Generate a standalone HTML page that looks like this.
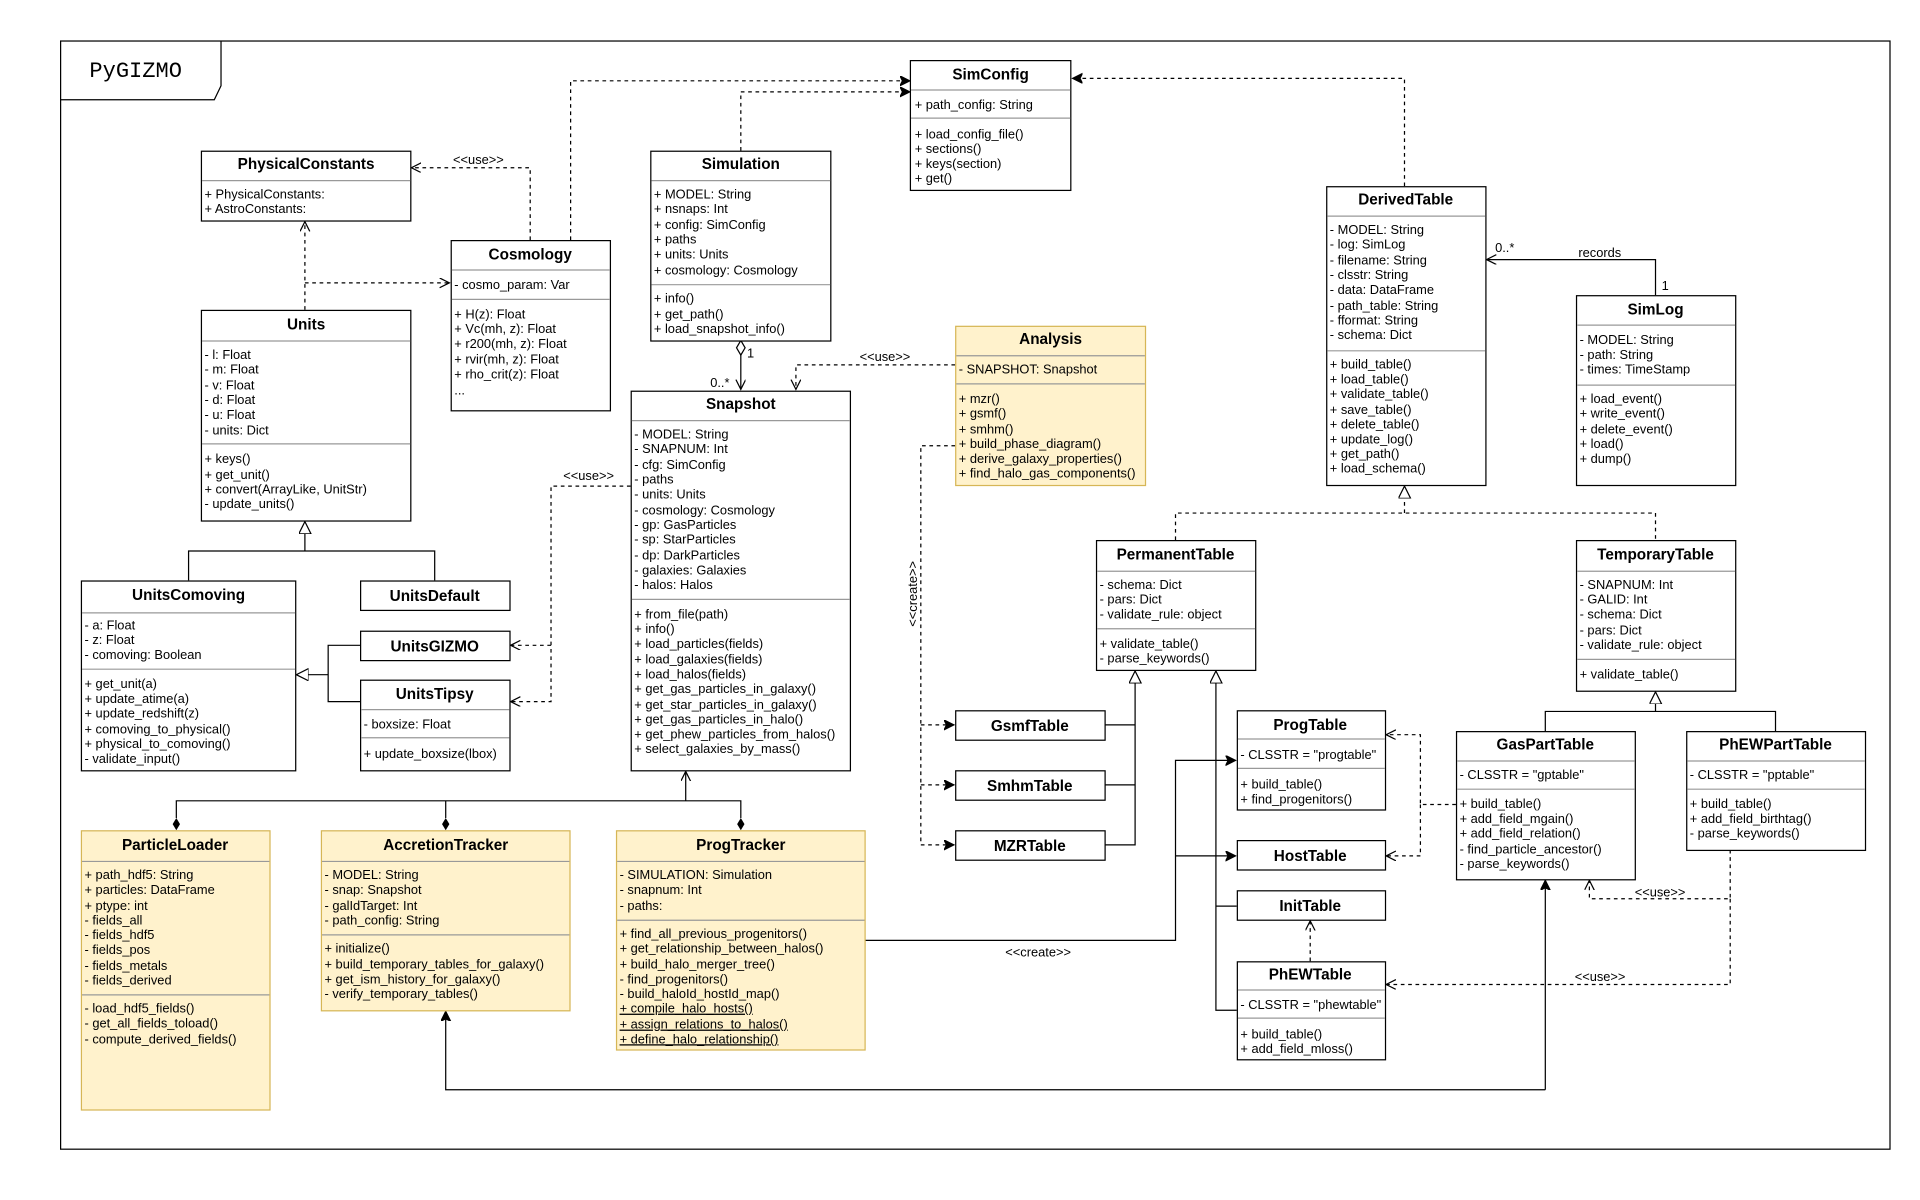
<!DOCTYPE html>
<html><head><meta charset="utf-8"><style>
html,body{margin:0;padding:0;background:#fff;width:1920px;height:1200px;overflow:hidden}
svg{display:block}
.t{font:bold 12.5px "Liberation Sans",sans-serif;text-anchor:middle}
.m{font:10.5px "Liberation Sans",sans-serif}
.l{font:10.5px "Liberation Sans",sans-serif}
.b{fill:#fff;stroke:#000;stroke-width:1}
.y{fill:#fff2cc;stroke:#d6b656;stroke-width:1}
.s{stroke:#999;stroke-width:1}
.c{fill:none;stroke:#000;stroke-width:1}
.d{fill:none;stroke:#000;stroke-width:1;stroke-dasharray:3,3}
</style></head><body>
<svg width="1920" height="1200" viewBox="0 0 1568 980" xmlns="http://www.w3.org/2000/svg">
<defs>
<marker id="op" markerUnits="userSpaceOnUse" markerWidth="10" markerHeight="10" refX="8" refY="4" orient="auto"><path d="M0,0 L8,4 L0,8" fill="none" stroke="#000" stroke-width="1"/></marker>
<marker id="fa" markerUnits="userSpaceOnUse" markerWidth="10" markerHeight="10" refX="8" refY="4" orient="auto"><path d="M0,0 L8,4 L0,8 L2,4 z" fill="#000" stroke="#000"/></marker>
<marker id="tr" markerUnits="userSpaceOnUse" markerWidth="12" markerHeight="12" refX="10" refY="5" orient="auto"><path d="M0,0 L10,5 L0,10 z" fill="#fff" stroke="#000"/></marker>
</defs>
<rect x="0" y="0" width="1568" height="980" fill="#fff"/>
<!-- frame -->
<rect x="49.5" y="33.5" width="1494" height="905" fill="none" stroke="#000"/>
<path d="M49.5,81.5 H175 L180.5,70 V33.5" fill="none" stroke="#000"/>
<text x="73" y="63" style="font:18px 'Liberation Mono',monospace">PyGIZMO</text>

<!-- connectors -->
<path class="d" d="M466,196 V66 H743" marker-end="url(#fa)"/>
<path class="d" d="M605,123 V75 H743" marker-end="url(#fa)"/>
<path class="d" d="M1147,152 V64 H876" marker-end="url(#fa)"/>
<path class="d" d="M433,196 V137 H336" marker-end="url(#op)"/>
<text class="l" x="370" y="134">&lt;&lt;use&gt;&gt;</text>
<path class="d" d="M249,253 V181" marker-end="url(#op)"/>
<path class="d" d="M249,231 H367" marker-end="url(#op)"/>
<path class="c" d="M154,474 V450 H355 V474 M249,450 V426" marker-end="url(#tr)"/>
<path class="c" d="M294,527 H268 V573 H294 M268,551 H242" marker-end="url(#tr)"/>
<path class="d" d="M515,397 H450 V573 H417" marker-end="url(#op)"/>
<path class="d" d="M450,527 H417" marker-end="url(#op)"/>
<text class="l" x="460" y="392">&lt;&lt;use&gt;&gt;</text>
<path class="c" d="M605,289 V318" marker-end="url(#op)"/>
<path d="M605,278 L608.5,284 L605,290 L601.5,284 z" fill="#fff" stroke="#000"/>
<text class="l" x="610" y="292">1</text>
<text class="l" x="580" y="316">0..*</text>
<path class="d" d="M780,298 H650 V318" marker-end="url(#op)"/>
<text class="l" x="702" y="295">&lt;&lt;use&gt;&gt;</text>
<path class="d" d="M780,364 H752 V690 H779" marker-end="url(#fa)"/>
<path class="d" d="M752,592 H779" marker-end="url(#fa)"/>
<path class="d" d="M752,641 H779" marker-end="url(#fa)"/>
<text class="l" transform="translate(749,485) rotate(-90)" text-anchor="middle">&lt;&lt;create&gt;&gt;</text>
<path class="c" d="M1352,241 V212 H1214" marker-end="url(#op)"/>
<text class="l" x="1221" y="206">0..*</text>
<text class="l" x="1289" y="210">records</text>
<text class="l" x="1357" y="237">1</text>
<path class="d" d="M960,441 V419 H1352 V441 M1147,419 V397" marker-end="url(#tr)"/>
<path class="c" d="M902,592 H927 V690 H902 M902,641 H927 M927,592 V548" marker-end="url(#tr)"/>
<path class="c" d="M1010,825 H993 V548" marker-end="url(#tr)"/>
<path class="c" d="M993,740 H1010"/>
<path class="c" d="M706,768 H960 V621 H1009" marker-end="url(#fa)"/>
<path class="c" d="M960,699 H1009" marker-end="url(#fa)"/>
<text class="l" x="821" y="781">&lt;&lt;create&gt;&gt;</text>
<path class="d" d="M1189,657 H1160 V600 H1132" marker-end="url(#op)"/>
<path class="d" d="M1160,657 V699 H1132" marker-end="url(#op)"/>
<path class="d" d="M1413,694 V734 H1298 V719" marker-end="url(#op)"/>
<path class="d" d="M1413,734 V804 H1132" marker-end="url(#op)"/>
<text class="l" x="1335" y="732">&lt;&lt;use&gt;&gt;</text>
<text class="l" x="1286" y="801">&lt;&lt;use&gt;&gt;</text>
<path class="d" d="M1070,785 V752" marker-end="url(#op)"/>
<path class="c" d="M1262,890 H364 V826" marker-end="url(#fa)"/>
<path class="c" d="M1262,890 V719" marker-end="url(#fa)"/>
<path class="c" d="M144,668 V654 H605 V668 M364,654 V668 M560,654 V630" marker-end="url(#op)"/>
<path d="M144,668 L147,673 L144,678 L141,673 z M364,668 L367,673 L364,678 L361,673 z M605,668 L608,673 L605,678 L602,673 z" fill="#000"/>

<!-- SimConfig -->
<rect class="b" x="743.5" y="49.5" width="131" height="106"/>
<text class="t" x="809" y="65">SimConfig</text>
<line class="s" x1="744" x2="874" y1="73.5" y2="73.5"/>
<text class="m" x="747" y="89">+ path_config: String</text>
<line class="s" x1="744" x2="874" y1="96.5" y2="96.5"/>
<text class="m" x="747" y="113">+ load_config_file()</text>
<text class="m" x="747" y="125">+ sections()</text>
<text class="m" x="747" y="137">+ keys(section)</text>
<text class="m" x="747" y="149">+ get()</text>

<!-- PhysicalConstants -->
<rect class="b" x="164.5" y="123.5" width="171" height="57"/>
<text class="t" x="250" y="138">PhysicalConstants</text>
<line class="s" x1="165" x2="335" y1="147.5" y2="147.5"/>
<text class="m" x="167" y="162">+ PhysicalConstants:</text>
<text class="m" x="167" y="174">+ AstroConstants:</text>

<!-- Cosmology -->
<rect class="b" x="368.5" y="196.5" width="130" height="139"/>
<text class="t" x="433" y="212">Cosmology</text>
<line class="s" x1="369" x2="498" y1="220.5" y2="220.5"/>
<text class="m" x="371" y="236">- cosmo_param: Var</text>
<line class="s" x1="369" x2="498" y1="244.5" y2="244.5"/>
<text class="m" x="371" y="260">+ H(z): Float</text>
<text class="m" x="371" y="272">+ Vc(mh, z): Float</text>
<text class="m" x="371" y="284">+ r200(mh, z): Float</text>
<text class="m" x="371" y="297">+ rvir(mh, z): Float</text>
<text class="m" x="371" y="309">+ rho_crit(z): Float</text>
<text class="m" x="371" y="322">...</text>

<!-- Simulation -->
<rect class="b" x="531.5" y="123.5" width="147" height="155"/>
<text class="t" x="605" y="138">Simulation</text>
<line class="s" x1="532" x2="678" y1="147.5" y2="147.5"/>
<text class="m" x="534" y="162">+ MODEL: String</text>
<text class="m" x="534" y="174">+ nsnaps: Int</text>
<text class="m" x="534" y="187">+ config: SimConfig</text>
<text class="m" x="534" y="199">+ paths</text>
<text class="m" x="534" y="211">+ units: Units</text>
<text class="m" x="534" y="224">+ cosmology: Cosmology</text>
<line class="s" x1="532" x2="678" y1="232.5" y2="232.5"/>
<text class="m" x="534" y="247">+ info()</text>
<text class="m" x="534" y="260">+ get_path()</text>
<text class="m" x="534" y="272">+ load_snapshot_info()</text>

<!-- Units -->
<rect class="b" x="164.5" y="253.5" width="171" height="172"/>
<text class="t" x="250" y="269">Units</text>
<line class="s" x1="165" x2="335" y1="278.5" y2="278.5"/>
<text class="m" x="167" y="293">- l: Float</text>
<text class="m" x="167" y="305">- m: Float</text>
<text class="m" x="167" y="318">- v: Float</text>
<text class="m" x="167" y="330">- d: Float</text>
<text class="m" x="167" y="342">- u: Float</text>
<text class="m" x="167" y="355">- units: Dict</text>
<line class="s" x1="165" x2="335" y1="362.5" y2="362.5"/>
<text class="m" x="167" y="378">+ keys()</text>
<text class="m" x="167" y="391">+ get_unit()</text>
<text class="m" x="167" y="403">+ convert(ArrayLike, UnitStr)</text>
<text class="m" x="167" y="415">- update_units()</text>

<!-- UnitsComoving -->
<rect class="b" x="66.5" y="474.5" width="175" height="155"/>
<text class="t" x="154" y="490">UnitsComoving</text>
<line class="s" x1="67" x2="241" y1="500.5" y2="500.5"/>
<text class="m" x="69" y="514">- a: Float</text>
<text class="m" x="69" y="526">- z: Float</text>
<text class="m" x="69" y="538">- comoving: Boolean</text>
<line class="s" x1="67" x2="241" y1="546.5" y2="546.5"/>
<text class="m" x="69" y="562">+ get_unit(a)</text>
<text class="m" x="69" y="574">+ update_atime(a)</text>
<text class="m" x="69" y="586">+ update_redshift(z)</text>
<text class="m" x="69" y="599">+ comoving_to_physical()</text>
<text class="m" x="69" y="611">+ physical_to_comoving()</text>
<text class="m" x="69" y="623">- validate_input()</text>

<!-- UnitsDefault / GIZMO / Tipsy -->
<rect class="b" x="294.5" y="474.5" width="122" height="24"/>
<text class="t" x="355" y="491">UnitsDefault</text>
<rect class="b" x="294.5" y="515.5" width="122" height="24"/>
<text class="t" x="355" y="532">UnitsGIZMO</text>
<rect class="b" x="294.5" y="555.5" width="122" height="74"/>
<text class="t" x="355" y="571">UnitsTipsy</text>
<line class="s" x1="295" x2="416" y1="579.5" y2="579.5"/>
<text class="m" x="297" y="595">- boxsize: Float</text>
<line class="s" x1="295" x2="416" y1="602.5" y2="602.5"/>
<text class="m" x="297" y="619">+ update_boxsize(lbox)</text>

<!-- Snapshot -->
<rect class="b" x="515.5" y="319.5" width="179" height="310"/>
<text class="t" x="605" y="334">Snapshot</text>
<line class="s" x1="516" x2="694" y1="343.5" y2="343.5"/>
<text class="m" x="518" y="358">- MODEL: String</text>
<text class="m" x="518" y="370">- SNAPNUM: Int</text>
<text class="m" x="518" y="383">- cfg: SimConfig</text>
<text class="m" x="518" y="395">- paths</text>
<text class="m" x="518" y="407">- units: Units</text>
<text class="m" x="518" y="420">- cosmology: Cosmology</text>
<text class="m" x="518" y="432">- gp: GasParticles</text>
<text class="m" x="518" y="444">- sp: StarParticles</text>
<text class="m" x="518" y="457">- dp: DarkParticles</text>
<text class="m" x="518" y="469">- galaxies: Galaxies</text>
<text class="m" x="518" y="481">- halos: Halos</text>
<line class="s" x1="516" x2="694" y1="489.5" y2="489.5"/>
<text class="m" x="518" y="505">+ from_file(path)</text>
<text class="m" x="518" y="517">+ info()</text>
<text class="m" x="518" y="529">+ load_particles(fields)</text>
<text class="m" x="518" y="542">+ load_galaxies(fields)</text>
<text class="m" x="518" y="554">+ load_halos(fields)</text>
<text class="m" x="518" y="566">+ get_gas_particles_in_galaxy()</text>
<text class="m" x="518" y="579">+ get_star_particles_in_galaxy()</text>
<text class="m" x="518" y="591">+ get_gas_particles_in_halo()</text>
<text class="m" x="518" y="603">+ get_phew_particles_from_halos()</text>
<text class="m" x="518" y="615">+ select_galaxies_by_mass()</text>

<!-- Analysis -->
<rect class="y" x="780.5" y="266.5" width="155" height="130"/>
<text class="t" x="858" y="281">Analysis</text>
<line class="s" x1="781" x2="935" y1="290.5" y2="290.5"/>
<text class="m" x="783" y="305">- SNAPSHOT: Snapshot</text>
<line class="s" x1="781" x2="935" y1="313.5" y2="313.5"/>
<text class="m" x="783" y="329">+ mzr()</text>
<text class="m" x="783" y="341">+ gsmf()</text>
<text class="m" x="783" y="354">+ smhm()</text>
<text class="m" x="783" y="366">+ build_phase_diagram()</text>
<text class="m" x="783" y="378">+ derive_galaxy_properties()</text>
<text class="m" x="783" y="390">+ find_halo_gas_components()</text>

<!-- DerivedTable -->
<rect class="b" x="1083.5" y="152.5" width="130" height="244"/>
<text class="t" x="1148" y="167" font-style="italic">DerivedTable</text>
<line class="s" x1="1084" x2="1213" y1="176.5" y2="176.5"/>
<text class="m" x="1086" y="191">- MODEL: String</text>
<text class="m" x="1086" y="203">- log: SimLog</text>
<text class="m" x="1086" y="216">- filename: String</text>
<text class="m" x="1086" y="228">- clsstr: String</text>
<text class="m" x="1086" y="240">- data: DataFrame</text>
<text class="m" x="1086" y="253">- path_table: String</text>
<text class="m" x="1086" y="265">- fformat: String</text>
<text class="m" x="1086" y="277">- schema: Dict</text>
<line class="s" x1="1084" x2="1213" y1="286.5" y2="286.5"/>
<text class="m" x="1086" y="301">+ build_table()</text>
<text class="m" x="1086" y="313">+ load_table()</text>
<text class="m" x="1086" y="325">+ validate_table()</text>
<text class="m" x="1086" y="338">+ save_table()</text>
<text class="m" x="1086" y="350">+ delete_table()</text>
<text class="m" x="1086" y="362">+ update_log()</text>
<text class="m" x="1086" y="374">+ get_path()</text>
<text class="m" x="1086" y="386">+ load_schema()</text>

<!-- SimLog -->
<rect class="b" x="1287.5" y="241.5" width="130" height="155"/>
<text class="t" x="1352" y="257">SimLog</text>
<line class="s" x1="1288" x2="1417" y1="265.5" y2="265.5"/>
<text class="m" x="1290" y="281">- MODEL: String</text>
<text class="m" x="1290" y="293">- path: String</text>
<text class="m" x="1290" y="305">- times: TimeStamp</text>
<line class="s" x1="1288" x2="1417" y1="314.5" y2="314.5"/>
<text class="m" x="1290" y="329">+ load_event()</text>
<text class="m" x="1290" y="341">+ write_event()</text>
<text class="m" x="1290" y="354">+ delete_event()</text>
<text class="m" x="1290" y="366">+ load()</text>
<text class="m" x="1290" y="378">+ dump()</text>

<!-- PermanentTable -->
<rect class="b" x="895.5" y="441.5" width="130" height="106"/>
<text class="t" x="960" y="457">PermanentTable</text>
<line class="s" x1="896" x2="1025" y1="466.5" y2="466.5"/>
<text class="m" x="898" y="481">- schema: Dict</text>
<text class="m" x="898" y="493">- pars: Dict</text>
<text class="m" x="898" y="505">- validate_rule: object</text>
<line class="s" x1="896" x2="1025" y1="513.5" y2="513.5"/>
<text class="m" x="898" y="529">+ validate_table()</text>
<text class="m" x="898" y="541">- parse_keywords()</text>

<!-- TemporaryTable -->
<rect class="b" x="1287.5" y="441.5" width="130" height="123"/>
<text class="t" x="1352" y="457">TemporaryTable</text>
<line class="s" x1="1288" x2="1417" y1="466.5" y2="466.5"/>
<text class="m" x="1290" y="481">- SNAPNUM: Int</text>
<text class="m" x="1290" y="493">- GALID: Int</text>
<text class="m" x="1290" y="505">- schema: Dict</text>
<text class="m" x="1290" y="518">- pars: Dict</text>
<text class="m" x="1290" y="530">- validate_rule: object</text>
<line class="s" x1="1288" x2="1417" y1="538.5" y2="538.5"/>
<text class="m" x="1290" y="554">+ validate_table()</text>

<!-- Gsmf/Smhm/MZR -->
<rect class="b" x="780.5" y="580.5" width="122" height="24"/>
<text class="t" x="841" y="597">GsmfTable</text>
<rect class="b" x="780.5" y="629.5" width="122" height="24"/>
<text class="t" x="841" y="646">SmhmTable</text>
<rect class="b" x="780.5" y="678.5" width="122" height="24"/>
<text class="t" x="841" y="695">MZRTable</text>

<!-- ProgTable -->
<rect class="b" x="1010.5" y="580.5" width="121" height="81"/>
<text class="t" x="1070" y="596">ProgTable</text>
<line class="s" x1="1011" x2="1131" y1="603.5" y2="603.5"/>
<text class="m" x="1013" y="620">- CLSSTR = "progtable"</text>
<line class="s" x1="1011" x2="1131" y1="627.5" y2="627.5"/>
<text class="m" x="1013" y="644">+ build_table()</text>
<text class="m" x="1013" y="656">+ find_progenitors()</text>
<rect class="b" x="1010.5" y="686.5" width="121" height="24"/>
<text class="t" x="1070" y="703">HostTable</text>
<rect class="b" x="1010.5" y="727.5" width="121" height="24"/>
<text class="t" x="1070" y="744">InitTable</text>
<rect class="b" x="1010.5" y="785.5" width="121" height="80"/>
<text class="t" x="1070" y="800">PhEWTable</text>
<line class="s" x1="1011" x2="1131" y1="808.5" y2="808.5"/>
<text class="m" x="1013" y="824">- CLSSTR = "phewtable"</text>
<line class="s" x1="1011" x2="1131" y1="831.5" y2="831.5"/>
<text class="m" x="1013" y="848">+ build_table()</text>
<text class="m" x="1013" y="860">+ add_field_mloss()</text>

<!-- GasPartTable -->
<rect class="b" x="1189.5" y="597.5" width="146" height="121"/>
<text class="t" x="1262" y="612">GasPartTable</text>
<line class="s" x1="1190" x2="1335" y1="621.5" y2="621.5"/>
<text class="m" x="1192" y="636">- CLSSTR = "gptable"</text>
<line class="s" x1="1190" x2="1335" y1="644.5" y2="644.5"/>
<text class="m" x="1192" y="660">+ build_table()</text>
<text class="m" x="1192" y="672">+ add_field_mgain()</text>
<text class="m" x="1192" y="684">+ add_field_relation()</text>
<text class="m" x="1192" y="697">- find_particle_ancestor()</text>
<text class="m" x="1192" y="709">- parse_keywords()</text>

<!-- PhEWPartTable -->
<rect class="b" x="1377.5" y="597.5" width="146" height="97"/>
<text class="t" x="1450" y="612">PhEWPartTable</text>
<line class="s" x1="1378" x2="1523" y1="621.5" y2="621.5"/>
<text class="m" x="1380" y="636">- CLSSTR = "pptable"</text>
<line class="s" x1="1378" x2="1523" y1="644.5" y2="644.5"/>
<text class="m" x="1380" y="660">+ build_table()</text>
<text class="m" x="1380" y="672">+ add_field_birthtag()</text>
<text class="m" x="1380" y="684">- parse_keywords()</text>
<path class="c" d="M1262,597 V581 H1450 V597 M1352,581 V565" marker-end="url(#tr)"/>

<!-- ParticleLoader -->
<rect class="y" x="66.5" y="678.5" width="154" height="228"/>
<text class="t" x="143" y="694">ParticleLoader</text>
<line class="s" x1="67" x2="220" y1="703.5" y2="703.5"/>
<text class="m" x="69" y="718">+ path_hdf5: String</text>
<text class="m" x="69" y="730">+ particles: DataFrame</text>
<text class="m" x="69" y="743">+ ptype: int</text>
<text class="m" x="69" y="755">- fields_all</text>
<text class="m" x="69" y="767">- fields_hdf5</text>
<text class="m" x="69" y="779">- fields_pos</text>
<text class="m" x="69" y="792">- fields_metals</text>
<text class="m" x="69" y="804">- fields_derived</text>
<line class="s" x1="67" x2="220" y1="812.5" y2="812.5"/>
<text class="m" x="69" y="827">- load_hdf5_fields()</text>
<text class="m" x="69" y="839">- get_all_fields_toload()</text>
<text class="m" x="69" y="852">- compute_derived_fields()</text>

<!-- AccretionTracker -->
<rect class="y" x="262.5" y="678.5" width="203" height="147"/>
<text class="t" x="364" y="694">AccretionTracker</text>
<line class="s" x1="263" x2="465" y1="703.5" y2="703.5"/>
<text class="m" x="265" y="718">- MODEL: String</text>
<text class="m" x="265" y="730">- snap: Snapshot</text>
<text class="m" x="265" y="743">- galIdTarget: Int</text>
<text class="m" x="265" y="755">- path_config: String</text>
<line class="s" x1="263" x2="465" y1="763.5" y2="763.5"/>
<text class="m" x="265" y="778">+ initialize()</text>
<text class="m" x="265" y="791">+ build_temporary_tables_for_galaxy()</text>
<text class="m" x="265" y="803">+ get_ism_history_for_galaxy()</text>
<text class="m" x="265" y="815">- verify_temporary_tables()</text>

<!-- ProgTracker -->
<rect class="y" x="503.5" y="678.5" width="203" height="179"/>
<text class="t" x="605" y="694">ProgTracker</text>
<line class="s" x1="504" x2="706" y1="703.5" y2="703.5"/>
<text class="m" x="506" y="718">- SIMULATION: Simulation</text>
<text class="m" x="506" y="730">- snapnum: Int</text>
<text class="m" x="506" y="743">- paths:</text>
<line class="s" x1="504" x2="706" y1="751.5" y2="751.5"/>
<text class="m" x="506" y="766">+ find_all_previous_progenitors()</text>
<text class="m" x="506" y="778">+ get_relationship_between_halos()</text>
<text class="m" x="506" y="791">+ build_halo_merger_tree()</text>
<text class="m" x="506" y="803">- find_progenitors()</text>
<text class="m" x="506" y="815">- build_haloId_hostId_map()</text>
<text class="m" x="506" y="827" text-decoration="underline">+ compile_halo_hosts()</text>
<text class="m" x="506" y="840" text-decoration="underline">+ assign_relations_to_halos()</text>
<text class="m" x="506" y="852" text-decoration="underline">+ define_halo_relationship()</text>
</svg>
</body></html>
